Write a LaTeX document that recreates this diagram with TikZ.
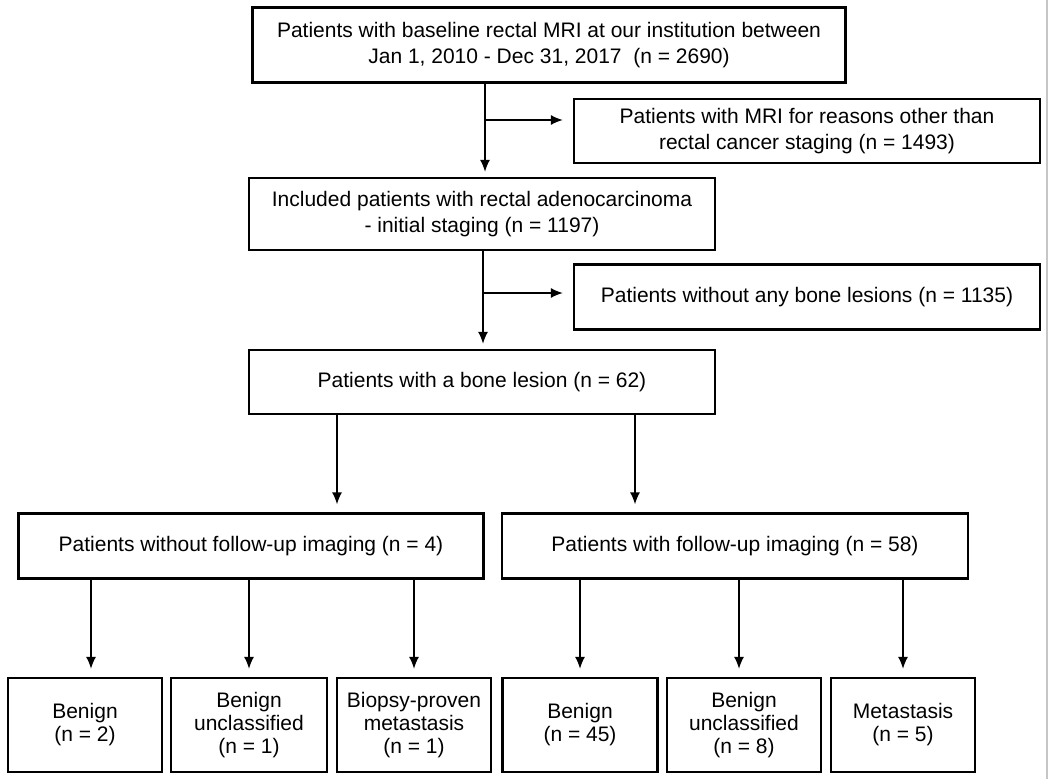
\documentclass[tikz,border=0pt]{standalone}
\usepackage{fontspec}
\setmainfont{Liberation Sans}
\usetikzlibrary{arrows.meta, calc}

\tikzset{
    box/.style={draw, line width=2.3pt, align=center, inner sep=0pt, font=\fontsize{21}{26.5}\selectfont},
    leaf/.style={box, minimum height=94pt, font=\fontsize{21}{23}\selectfont},
    arr/.style={-{Latex[length=12pt,width=10pt]}, line width=1.4pt, shorten >=5pt},
}

\begin{document}
\begin{tikzpicture}[x=1pt, y=-1pt]
        \useasboundingbox (0,0) rectangle (1050,779);
        \draw[gray!45, line width=1.2pt] (1047,0) -- (1047,779);

        % main column
        \node[box, minimum width=593pt, minimum height=75pt] (base) at (549,45) {Patients with baseline rectal MRI at our institution between\\Jan 1, 2010 - Dec 31, 2017~ (n = 2690)};
        \node[box, minimum width=466pt, minimum height=72pt] (incl) at (482,214) {Included patients with rectal adenocarcinoma\\- initial staging (n = 1197)};
        \node[box, minimum width=466pt, minimum height=64pt] (bone) at (482,382) {Patients with a bone lesion (n = 62)};

        % excluded
        \node[box, minimum width=466pt, minimum height=64pt] (other) at (807,131) {Patients with MRI for reasons other than\\rectal cancer staging (n = 1493)};
        \node[box, minimum width=466pt, minimum height=65pt] (nobone) at (807,297) {Patients without any bone lesions (n = 1135)};

        % follow-up
        \node[box, minimum width=465pt, minimum height=65pt] (nofu) at (251,546) {Patients without follow-up imaging (n = 4)};
        \node[box, minimum width=466pt, minimum height=65pt] (fu) at (735,546) {Patients with follow-up imaging (n = 58)};

        % outcomes
        \node[leaf, minimum width=154pt] (b1) at (85,725) {Benign\\(n = 2)};
        \node[leaf, minimum width=156pt] (b2) at (249,725) {Benign\\unclassified\\(n = 1)};
        \node[leaf, minimum width=154pt] (b3) at (414,725) {Biopsy-proven\\metastasis\\(n = 1)};
        \node[leaf, minimum width=155pt] (b4) at (580,725) {Benign\\(n = 45)};
        \node[leaf, minimum width=154pt] (b5) at (744,725) {Benign\\unclassified\\(n = 8)};
        \node[leaf, minimum width=144pt] (b6) at (903,725) {Metastasis\\(n = 5)};

        \coordinate (j1) at (485,120);
        \coordinate (j2) at (483,293);
        \coordinate (s1) at (337,414);
        \coordinate (s2) at (635,414);

        \draw[arr] (base.south -| j1) -- (incl.north -| j1);
        \draw[arr, shorten >=10pt] (j1) -- (j1 -| other.west);
        \draw[arr] (incl.south -| j2) -- (bone.north -| j2);
        \draw[arr, shorten >=10pt] (j2) -- (j2 -| nobone.west);
        \draw[arr, shorten >=8pt] (s1) -- (s1 |- nofu.north);
        \draw[arr, shorten >=8pt] (s2) -- (s2 |- fu.north);

        \draw[arr, shorten >=8pt] ([xshift=6pt]b1.north |- nofu.south) -- ([xshift=6pt]b1.north);
        \draw[arr, shorten >=8pt] (b2.north |- nofu.south) -- (b2.north);
        \draw[arr, shorten >=8pt] (b3.north |- nofu.south) -- (b3.north);
        \draw[arr, shorten >=8pt] (b4.north |- fu.south) -- (b4.north);
        \draw[arr, shorten >=8pt] ([xshift=-5pt]b5.north |- fu.south) -- ([xshift=-5pt]b5.north);
        \draw[arr, shorten >=8pt] (b6.north |- fu.south) -- (b6.north);
    \end{tikzpicture}
\end{document}
